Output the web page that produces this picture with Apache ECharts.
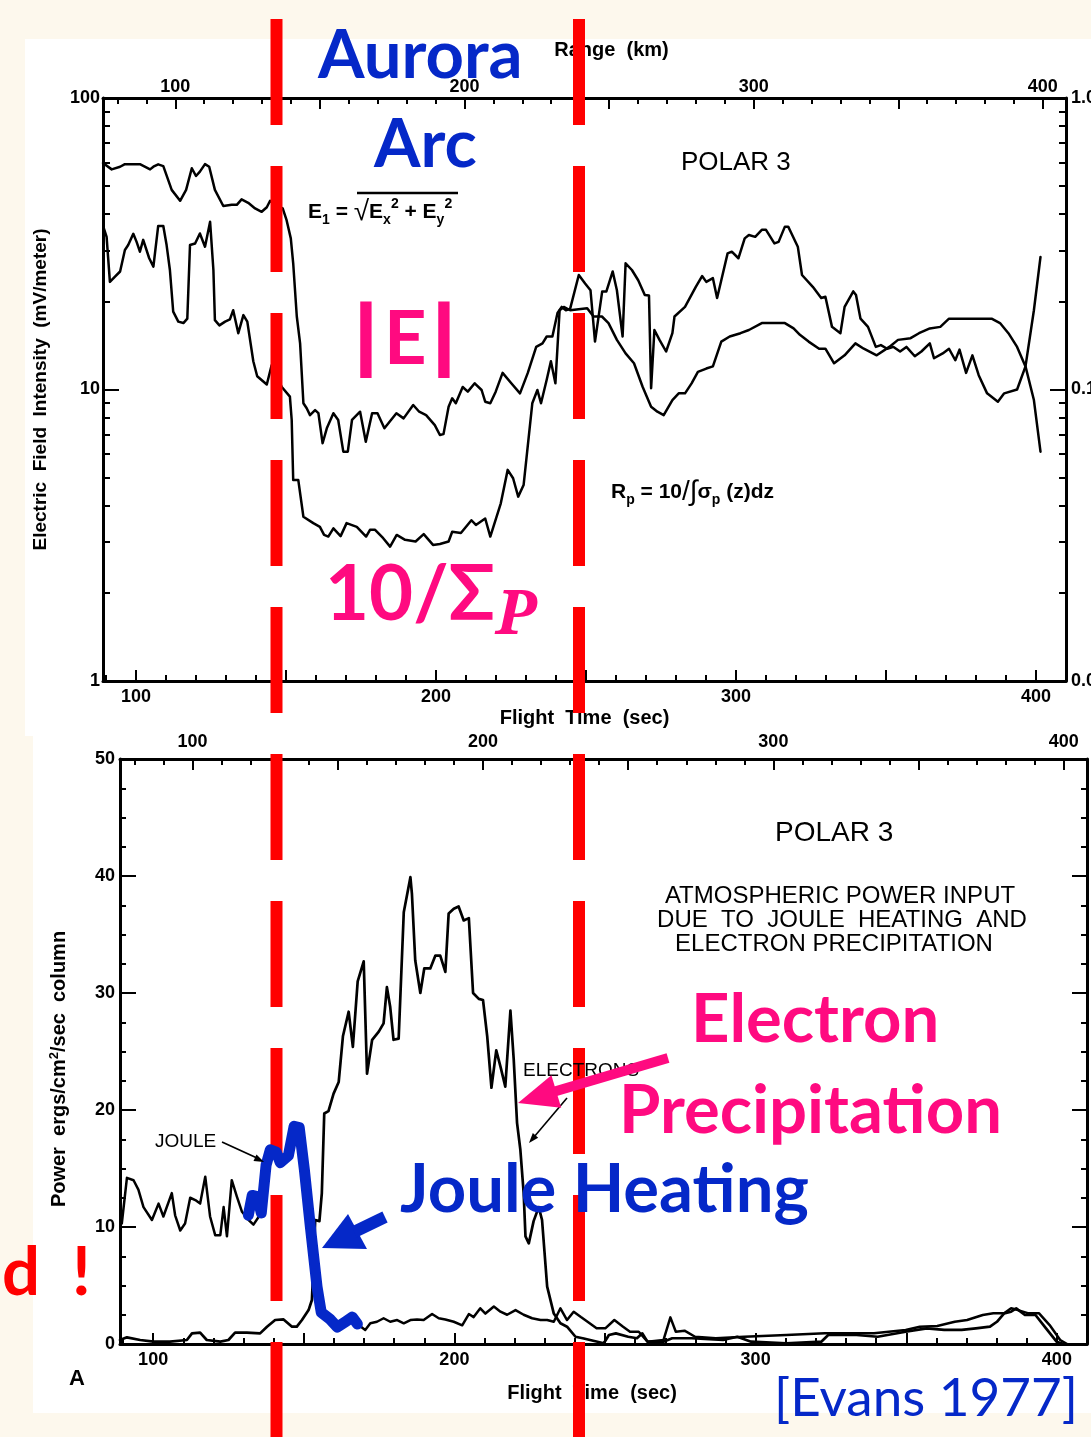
<!DOCTYPE html>
<html><head><meta charset="utf-8">
<script src="https://cdn.jsdelivr.net/npm/echarts@6.0.0/dist/echarts.min.js"></script>
<style>html,body{margin:0;padding:0;background:#fdf8ed;}#c{width:1091px;height:1437px;}</style>
</head><body><div id="c"></div>
<script>
// ---------- DATA ----------
// Top panel: flight time (s) vs field intensity (mV/m), log scale
const eField = [[89,59.8],[91.9,56.9],[94.7,58.1],[96.3,59.3],[101.3,59.3],[104.7,56.9],[105.8,58.1],[107.4,59.2],[109.1,58.4],[111.9,48.4],[114.7,44.4],[116.7,48.4],[118.6,57.4],[120,54.0],[121.3,55.9],[123,59.3],[124.4,58.1],[126.3,48.4],[129.1,42.6],[131.9,43.0],[133.6,43.0],[135.2,44.9],[137.4,43.7],[139.7,41.8],[141.9,40.7],[143.6,42.2],[144.7,44.4],[146.3,43.0],[148.9,41.8],[150.2,38.1],[151.6,33.0],[152.4,27.1],[153.6,17.8],[154.7,14.4],[155.8,8.97],[156.9,8.62],[158,8.17],[159.7,8.5],[160.8,8.3],[162.2,6.54],[163.6,7.36],[165.8,8.29],[167.4,7.86],[169.1,6.12],[170.6,6.12],[172,7.86],[174.7,8.39],[176.6,6.62],[178.7,8.29],[180.5,8.29],[182.8,7.36],[186.8,8.29],[189.2,7.96],[192.4,8.85],[194.4,8.39],[196.7,8.17],[199.6,7.55],[201.3,6.98],[202.5,7.03],[204.2,8.73],[205.4,9.33],[206.6,8.97],[208.9,10.2],[210.6,9.83],[212.9,10.5],[215.2,9.96],[216.4,9.08],[218.1,8.97],[219.9,9.83],[222.2,11.4],[225.1,10.5],[228,9.7],[230.6,11.4],[233.4,14.0],[235.5,14.4],[236.9,15.2],[238.8,15.2],[240.5,18.3],[241.9,19.2],[243.3,18.7],[244.7,18.9],[247.6,24.7],[249.7,23.1],[251.5,21.9],[253,14.6],[255.4,21.7],[256.8,21.7],[258.9,25.4],[260.3,21.9],[262.2,15.2],[263.2,27.1],[265.3,25.7],[267.4,23.7],[269.6,21.1],[271,21.0],[271.7,10.1],[272.8,16.0],[274.5,14.8],[276.7,13.5],[278.8,15.6],[279.5,17.8],[283,19.2],[286.6,22.5],[288.7,24.5],[290.1,23.4],[292.3,24.1],[293.7,20.6],[295.1,23.7],[297.2,29.3],[298.6,29.7],[300.8,28.2],[302.9,33.0],[304.3,33.9],[306.4,33.4],[308.6,35.3],[310,35.3],[312.8,31.7],[314.2,32.1],[316.3,36.2],[317.4,36.2],[318.5,34.3],[320.6,30.9],[322,24.7],[325.6,22.5],[328.4,20.6],[329.8,20.8],[332,16.4],[334.8,15.6],[336.2,19.2],[339.1,21.7],[340,21.1],[341.5,17.5],[344,16.4],[346.6,14.0],[348.3,14.2],[350.4,13.8],[352.5,14.0],[354.7,13.5],[356.8,14.0],[359.6,13.0],[361.8,13.5],[364.6,14.4],[366,12.8],[368.9,13.3],[371,13.8],[373.1,12.6],[374.5,13.7],[376.7,11.4],[378.8,13.1],[380.9,11.2],[383.7,9.7],[387.3,9.08],[389.4,9.7],[393.7,10.0],[396.5,12.0],[399.3,18.7],[401.5,28.5]];
const rpCurve = [[89.1,36.2],[90.2,33.4],[91.3,23.4],[93,24.4],[94.7,25.4],[96.3,30.1],[97.4,31.3],[99.1,34.2],[100.2,32.1],[101.3,29.7],[102.4,32.6],[104.4,28.2],[105.8,26.4],[107.4,36.4],[109.1,36.4],[110.2,31.3],[111.3,25.7],[112.4,18.5],[114.1,17.1],[115.8,16.9],[117.1,17.5],[118,31.3],[119.7,31.7],[121.3,34.3],[123,30.9],[124.7,37.6],[125.8,25.7],[126.3,17.3],[127.8,16.6],[129.7,17.1],[131.3,17.4],[132.4,18.7],[134.1,15.6],[135.8,18.0],[137.1,17.1],[139.1,12.5],[140.4,11.1],[143.6,10.4],[145.2,12.1],[146.9,11.1],[148.6,10.2],[151.3,9.45],[151.9,7.86],[152.4,4.89],[154.1,4.89],[155.8,3.66],[159.1,3.48],[161.3,3.38],[162.7,3.17],[164.1,3.13],[165.8,3.34],[168.2,3.14],[170.2,3.48],[173.6,3.38],[176.7,3.13],[178,3.30],[179.7,3.30],[182.4,3.09],[184.7,2.89],[186.9,3.17],[189.7,3.05],[193.2,3.01],[195.9,3.19],[199,2.93],[201.3,2.95],[204.2,3.01],[205.4,3.25],[208.3,3.22],[211.8,3.56],[213.3,3.43],[216.4,3.61],[218.1,3.13],[221.6,4.07],[223.9,5.30],[225.7,4.96],[227.4,4.29],[229.2,4.70],[232.1,8.97],[233.8,9.96],[235,8.97],[236.9,10.8],[238.3,12.5],[239.8,10.5],[241.2,18.7],[242.6,19.2],[244.7,18.7],[250.4,19.0],[252.5,17.8],[255.3,17.8],[257.5,16.9],[260.3,14.8],[263.2,13.3],[266,12.3],[268.9,10.2],[271.7,8.73],[273.8,8.39],[275.9,8.17],[278.8,9.20],[280.9,9.70],[283,9.70],[285.2,10.5],[287.3,11.5],[290.1,11.8],[292.3,12.0],[295.1,14.6],[297.9,15.2],[301.5,15.6],[304.3,16.0],[308.6,16.9],[316.3,16.9],[319.2,16.2],[321.3,15.4],[324.2,14.6],[327.7,13.8],[329.8,13.8],[332.7,12.3],[336.2,13.1],[339.8,14.4],[342.6,13.8],[346.9,13.1],[351.1,14.0],[354,14.8],[358.2,15.0],[361,15.6],[364.6,16.2],[368.1,16.4],[371,17.5],[378.1,17.5],[385.2,17.5],[388,16.9],[390.8,15.6],[393.7,14.0],[396.5,12.0],[399.3,9.20],[401.5,6.12]];
// Bottom panel: flight time (s) vs power (ergs/cm2/sec column)
const jouleCurve = [[89.6,10.3],[91.3,14.2],[93.5,14.0],[95.1,13.2],[96.8,11.7],[99.6,10.6],[101.8,12.0],[103.4,10.9],[106.2,12.9],[107.3,11.0],[109,9.7],[110.6,10.3],[112.3,12.5],[114,12.3],[115.6,12.0],[117.3,14.3],[118.9,10.9],[120.6,9.3],[122.3,9.3],[123.4,11.7],[124.5,9.2],[126.1,14.0],[127.8,12.6],[129.5,11.3],[131.7,10.6],[133.3,10.2],[135.9,11.2],[137.5,15.3],[138.9,16.6],[140.9,16.4],[142.2,15.5],[144.9,16.1],[146.8,18.6],[148.5,18.5],[150.2,14.9],[152.2,10.0],[154.4,4.9],[155.8,2.7],[158.8,2.1],[161.1,1.45],[163.8,1.9],[166.1,2.3],[167.8,1.7],[170.4,1.2],[172.1,1.77],[174.3,1.9],[176.5,2.2],[178.7,1.9],[181,2.05],[183.2,1.77],[185.4,2.05],[187.6,2.1],[189.8,2.05],[192.6,2.56],[194.8,2.2],[197,2.1],[199.8,1.9],[202.6,1.6],[204.8,2.56],[206.4,2.3],[208.6,3.05],[210.3,2.6],[213.1,3.2],[215.3,2.76],[217.5,2.5],[220.3,2.9],[223,2.5],[225.8,2.2],[228.6,2.05],[230.8,2.05],[233,1.9],[235.2,3.05],[237.4,2.05],[239.6,2.76],[242,2.3],[244.9,1.77],[247.2,1.34],[250.1,1.34],[253.1,2.05],[256,1.48],[258.3,1.05],[261.2,1.05],[264.1,0.2],[269.4,0.34],[271.7,2.28],[273.5,1.05],[276.4,1.14],[279.9,0.62],[286.8,0.49],[296.2,0.62],[310.2,0.77],[323,0.91],[339.3,0.91],[349.8,1.2],[354.5,1.48],[360.3,1.54],[366.1,1.9],[370.2,2.05],[375.4,2.48],[378.9,2.62],[382.5,2.62],[384.8,3.05],[387.1,2.9],[390.6,2.62],[394.1,2.62],[397.6,1.62],[401.1,0.34],[403.4,0]];
const electronCurve = [[89,0.34],[91.3,0.57],[95.7,0.34],[100.1,0.2],[105.6,0.2],[111.2,0.34],[112.9,0.91],[115.6,0.97],[117.8,0.34],[122.3,0.2],[125,0.34],[127.2,0.97],[131.1,0.97],[135.5,0.91],[137.8,1.48],[140.5,2.05],[143.3,2.1],[146.1,1.48],[147.7,1.48],[149.4,2.05],[151.6,2.9],[152.7,3.76],[153.3,7.2],[153.8,10.6],[155.2,10.5],[156,12.9],[156.8,19.7],[158.2,19.9],[159.9,21.4],[161.6,22.4],[163,26.3],[164.9,28.4],[166.3,25.4],[167.9,31.0],[169.9,32.7],[171,23.1],[172.7,26.0],[174.9,26.7],[176.5,27.4],[177.6,30.5],[178.7,28.8],[179.8,26.0],[181.5,26.1],[183.2,36.9],[185.4,39.9],[185.9,38.5],[187,32.8],[188.7,30.0],[190,32.1],[192,32.1],[193.7,33.2],[195.3,33.2],[197,31.8],[198.1,36.8],[199.8,37.2],[201.4,37.4],[203.1,36.2],[204.8,36.4],[206.2,30.0],[208.1,29.5],[209.5,29.4],[210.9,26.3],[212.3,21.9],[213.9,25.1],[215.3,23.7],[216.9,22.0],[218.6,28.5],[219.7,24.3],[220.8,18.9],[221.9,16.6],[223,12.9],[223.6,9.2],[224.7,8.6],[226.3,10.5],[228,11.7],[229.1,10.6],[230.8,4.9],[233,2.6],[235.2,1.77],[237.4,1.48],[240.2,0.62],[242.6,0.49],[249.6,0.06],[251.3,0.77],[253.6,0.91],[257.7,0.62],[260.6,0.49],[262.4,0.91],[264.1,0.2],[269.4,0.2],[272.3,0.49],[278.7,0.49],[289.2,0.34],[293.9,0.62],[298.5,0.2],[310.2,0.06],[321.8,0.2],[324.1,0.77],[333.5,0.77],[340.5,0.62],[349.8,1.05],[356.8,1.34],[362.6,1.2],[368.4,1.2],[373.1,1.34],[377.8,1.48],[380.1,1.9],[382.5,2.62],[384.8,2.76],[386.5,3.05],[389.4,2.48],[392.9,2.48],[396.4,1.34],[399.9,0.2],[402.3,0]];
// Blue hand-drawn highlight of the Joule heating peak
const jouleTrace = [[131.6,11.0],[132.9,12.7],[134.6,12.6],[135.9,11.2],[137.5,15.3],[138.9,16.6],[140.9,16.4],[142.2,15.5],[144.9,16.1],[146.8,18.6],[148.5,18.5],[150.2,14.9],[152.2,10.0],[154.4,4.9],[155.8,2.7],[158.8,2.1],[161.1,1.45],[163.8,1.9],[166.1,2.3],[167.8,1.7]];
// Tick labels
const timeLabels = [100, 200, 300, 400];
const rangeLabels = [100, 200, 300, 400];
const rightLogLabels = ['0.01', '0.1', '1.0'];
const powerLabels = [0, 10, 20, 30, 40, 50];

// ---------- STYLE ----------
const BLUE = '#0528c8', PINK = '#ff0a80', RED = '#ff0000', INK = '#000';
const SANS = "'Liberation Sans', Arial, Helvetica, sans-serif";
const NARROW = "'Liberation Sans Narrow', 'Liberation Sans', Arial, sans-serif";
const CAL = "Lato, 'Noto Sans', 'Open Sans', sans-serif";

function steps(a, b, s) { const r = []; for (let v = a; v <= b + 1e-9; v += s) r.push(Math.round(v * 1000) / 1000); return r; }
const timeMinor = steps(90, 400, 10), timeMajor = steps(100, 400, 50);
const rangeMinor = steps(80, 400, 10), rangeMajor = steps(100, 400, 50);
const logMinor = [];
[1, 10].forEach(d => { for (let k = 2; k <= 9; k++) logMinor.push(Math.log10(k * d)); });
const powerMinor = steps(0, 50, 2.5);

const labelStyle = { color: INK, fontFamily: NARROW, fontSize: 18, fontWeight: 'bold' };
const nameStyle = { color: INK, fontFamily: SANS, fontSize: 20, fontWeight: 'bold' };
const axLine = { show: true, onZero: false, lineStyle: { color: INK, width: 3 } };
const tickLine = { color: INK, width: 2 };

function tickOnly(base, ticks, len) {
  return Object.assign({}, base, {
    axisLine: { show: false, onZero: false },
    axisTick: { show: true, inside: true, length: len, customValues: ticks, lineStyle: tickLine },
    axisLabel: { show: false }, splitLine: { show: false }, silent: true
  });
}

const tMin = 89, tMax = 410, kmMin = 75, kmMax = 408;

const xAxes = [];
const yAxes = [];
[0, 1].forEach(g => {
  const tb = { gridIndex: g, type: 'value', position: 'bottom', min: tMin, max: tMax };
  xAxes.push(Object.assign({}, tb, {
    axisLine: axLine,
    axisTick: { show: true, inside: true, length: 6, customValues: timeMinor, lineStyle: tickLine },
    axisLabel: Object.assign({ customValues: timeLabels, margin: 7 }, labelStyle),
    splitLine: { show: false },
    name: 'Flight  Time  (sec)', nameLocation: 'middle', nameGap: g === 0 ? 27 : 39,
    nameMoveOverlap: false,
    nameTextStyle: Object.assign({}, nameStyle, g === 1 ? { padding: [0, 23, 0, 0] } : {})
  }));
  xAxes.push(tickOnly(tb, timeMajor, 11));
  const kb = { gridIndex: g, type: 'value', position: 'top', min: kmMin, max: kmMax };
  const kmAxis = Object.assign({}, kb, {
    axisLine: axLine,
    axisTick: { show: true, inside: true, length: 6, customValues: rangeMinor, lineStyle: tickLine },
    axisLabel: Object.assign({ customValues: rangeLabels, margin: g === 0 ? 2 : 8 }, labelStyle),
    splitLine: { show: false }
  });
  if (g === 0) Object.assign(kmAxis, { name: 'Range  (km)', nameLocation: 'middle', nameGap: 38, nameMoveOverlap: false,
    nameTextStyle: Object.assign({}, nameStyle, { padding: [0, 0, 0, 54] }) });
  xAxes.push(kmAxis);
  xAxes.push(tickOnly(kb, rangeMajor, 11));
});

// top panel y axes
yAxes.push({ gridIndex: 0, type: 'log', logBase: 10, min: 1, max: 100, position: 'left',
  axisLine: axLine, axisTick: { show: true, inside: true, length: 16, lineStyle: tickLine },
  axisLabel: Object.assign({ margin: 3 }, labelStyle), splitLine: { show: false },
  name: 'Electric  Field  Intensity  (mV/meter)', nameLocation: 'middle', nameRotate: 90, nameGap: 53,
  nameMoveOverlap: false, nameTextStyle: Object.assign({}, nameStyle, { fontSize: 19 }) });
yAxes.push(tickOnly({ gridIndex: 0, type: 'value', min: 0, max: 2, position: 'left' }, logMinor, 7));
yAxes.push({ gridIndex: 0, type: 'log', logBase: 10, min: 0.01, max: 1, position: 'right',
  axisLine: axLine, axisTick: { show: true, inside: true, length: 16, lineStyle: tickLine },
  axisLabel: Object.assign({ margin: 5, formatter: v => rightLogLabels[Math.round(Math.log10(v)) + 2] }, labelStyle),
  splitLine: { show: false } });
yAxes.push(tickOnly({ gridIndex: 0, type: 'value', min: 0, max: 2, position: 'right' }, logMinor, 7));
// bottom panel y axes
yAxes.push({ gridIndex: 1, type: 'value', min: 0, max: 50, interval: 10, position: 'left',
  axisLine: axLine, axisTick: { show: true, inside: true, length: 16, lineStyle: tickLine },
  axisLabel: Object.assign({ margin: 5, customValues: powerLabels }, labelStyle), splitLine: { show: false },
  name: '{a|Power  ergs/cm}{s|2}{a|/sec  column}', nameLocation: 'middle', nameRotate: 90, nameGap: 50,
  nameMoveOverlap: false,
  nameTextStyle: Object.assign({}, nameStyle, { padding: [0, 35, 0, 0],
    rich: { a: { fontFamily: SANS, fontSize: 20, fontWeight: 'bold', color: INK, lineHeight: 22 },
            s: { fontFamily: SANS, fontSize: 13, fontWeight: 'bold', color: INK, verticalAlign: 'top', lineHeight: 14 } } }) });
yAxes.push(tickOnly({ gridIndex: 1, type: 'value', min: 0, max: 50, position: 'left' }, powerMinor, 6));
yAxes.push({ gridIndex: 1, type: 'value', min: 0, max: 50, interval: 10, position: 'right',
  axisLine: axLine, axisTick: { show: true, inside: true, length: 15, lineStyle: tickLine },
  axisLabel: { show: false }, splitLine: { show: false } });
yAxes.push(tickOnly({ gridIndex: 1, type: 'value', min: 0, max: 50, position: 'right' }, powerMinor, 6));

function lineSeries(name, data, xi, yi, color, width, z) {
  return { name, type: 'line', data, xAxisIndex: xi, yAxisIndex: yi, showSymbol: false, symbol: 'none',
    lineStyle: { color, width, cap: 'round', join: 'round' }, z, silent: true, animation: false };
}

const series = [
  lineSeries('E1', eField, 0, 0, INK, 2.5, 2),
  lineSeries('Rp', rpCurve, 0, 0, INK, 2.5, 2),
  lineSeries('Joule', jouleCurve, 4, 4, INK, 2.5, 2),
  lineSeries('Electrons', electronCurve, 4, 4, INK, 2.7, 2),
  lineSeries('Joule heating (highlight)', jouleTrace, 4, 4, BLUE, 11, 10)
];

function txt(text, x, y, size, opts) {
  return Object.assign({ type: 'text', x, y, z: 20, silent: true,
    style: Object.assign({ text, fill: INK, fontSize: size, fontFamily: SANS,
      align: 'left', textAlign: 'left', verticalAlign: 'middle', textVerticalAlign: 'middle' }, (opts && opts.style) || {}) },
    (opts && opts.el) || {});
}
function big(text, x, y, color, size, weight, align, extra) {
  return txt(text, x, y, size, { style: Object.assign({ fill: color, fontFamily: CAL, fontWeight: weight || 'bold',
    align: align || 'left', textAlign: align || 'left' }, extra || {}) });
}
function arrowHead(tip, b1, b2, color) {
  return { type: 'polygon', z: 21, silent: true, shape: { points: [tip, b1, b2] }, style: { fill: color } };
}
function seg(p1, p2, color, w, z) {
  return { type: 'polyline', z: z || 21, silent: true, shape: { points: [p1, p2] }, style: { stroke: color, lineWidth: w, fill: null } };
}

const richFormula = {
  m: { fontSize: 21, fontFamily: SANS, fontWeight: 'bold', color: INK, lineHeight: 30, verticalAlign: 'middle' },
  s: { fontSize: 14, fontFamily: SANS, fontWeight: 'bold', color: INK, lineHeight: 14, verticalAlign: 'bottom' },
  p: { fontSize: 14, fontFamily: SANS, fontWeight: 'bold', color: INK, lineHeight: 14, verticalAlign: 'top' },
  r: { fontSize: 28, fontFamily: SANS, color: INK, lineHeight: 30, verticalAlign: 'middle' }
};

const graphics = [
  { type: 'rect', z: -1, silent: true, shape: { x: 25, y: 39, width: 1066, height: 697 }, style: { fill: '#fff' } },
  { type: 'rect', z: -1, silent: true, shape: { x: 33, y: 735, width: 1058, height: 678 }, style: { fill: '#fff' } },
  // red dashed markers
  { type: 'line', z: 5, silent: true, shape: { x1: 276.5, y1: 19, x2: 276.5, y2: 1437 }, style: { stroke: RED, lineWidth: 12, lineDash: [106, 41] } },
  { type: 'line', z: 5, silent: true, shape: { x1: 579, y1: 19, x2: 579, y2: 1437 }, style: { stroke: RED, lineWidth: 12, lineDash: [106, 41] } },
  // black texts of the original figure
  txt('POLAR 3', 681, 163, 26),
  { type: 'text', x: 308, y: 212, z: 20, silent: true, style: { text: '{m|E}{s|1}{m| = }{r|√}{m|E}{s|x}{p|2}{m| + E}{s|y}{p|2}', rich: richFormula, verticalAlign: 'middle', textVerticalAlign: 'middle' } },
  { type: 'line', z: 20, silent: true, shape: { x1: 357, y1: 193, x2: 458, y2: 193 }, style: { stroke: INK, lineWidth: 2.5 } },
  { type: 'text', x: 611, y: 492, z: 20, silent: true, style: { text: '{m|R}{s|p}{m| = 10}{r|/∫}{m|σ}{s|p}{m| (z)dz}', rich: richFormula, verticalAlign: 'middle', textVerticalAlign: 'middle' } },
  txt('POLAR 3', 775, 833, 28),
  txt('ATMOSPHERIC POWER INPUT', 840, 896, 24, { style: { align: 'center', textAlign: 'center' } }),
  txt('DUE  TO  JOULE  HEATING  AND', 842, 920, 24, { style: { align: 'center', textAlign: 'center' } }),
  txt('ELECTRON PRECIPITATION', 834, 944, 24, { style: { align: 'center', textAlign: 'center' } }),
  txt('JOULE', 155, 1142, 19),
  txt('ELECTRONS', 523, 1071, 19),
  txt('A', 77, 1379, 22, { style: { fontWeight: 'bold', align: 'center', textAlign: 'center' } }),
  seg([222, 1142], [257, 1158], INK, 1.6),
  arrowHead([264, 1162], [256.5, 1154.5], [253.5, 1160.9], INK),
  seg([567, 1098], [534, 1137], INK, 1.6),
  arrowHead([529, 1143], [538.2, 1137.7], [532.8, 1133.1], INK),
  // slide annotations
  big('Aurora', 318, 56, BLUE, 67),
  big('Arc', 374, 145, BLUE, 67),
  big('|', 356, 338, PINK, 76, 'bold', 'left', { stroke: PINK, lineWidth: 4 }),
  big('E', 384, 340, PINK, 74),
  big('|', 434, 338, PINK, 76, 'bold', 'left', { stroke: PINK, lineWidth: 4 }),
  big('10/Σ', 325, 595, PINK, 76),
  txt('P', 496, 616, 62, { style: { fill: PINK, fontFamily: "'Noto Serif', 'DejaVu Serif', serif", fontWeight: 'bold', fontStyle: 'italic' } }),
  big('Electron', 691, 1020, PINK, 67),
  big('Precipitation', 619, 1111, PINK, 67),
  big('Joule Heating', 400, 1190, BLUE, 67),
  big('d', 40, 1273, RED, 67, 'bold', 'right'),
  big('!', 72, 1273, RED, 67, 'bold', 'left'),
  big('[Evans 1977]', 774, 1399, BLUE, 53, 'normal'),
  seg([668, 1058], [553, 1092], PINK, 10, 22),
  arrowHead([518, 1103], [561.2, 1107.8], [551.4, 1075.2], PINK),
  seg([385, 1217], [354, 1232], BLUE, 12, 22),
  arrowHead([322, 1248], [348, 1214], [367, 1249], BLUE)
];

const chart = echarts.init(document.getElementById('c'), null, { renderer: 'canvas' });
chart.setOption({
  animation: false,
  backgroundColor: '#fdf8ed',
  grid: [
    { left: 103, top: 98, width: 963, height: 583, containLabel: false, outerBoundsMode: 'none' },
    { left: 120, top: 759, width: 967, height: 585, containLabel: false, outerBoundsMode: 'none' }
  ],
  xAxis: xAxes,
  yAxis: yAxes,
  series,
  graphic: { elements: graphics }
});
</script></body></html>
